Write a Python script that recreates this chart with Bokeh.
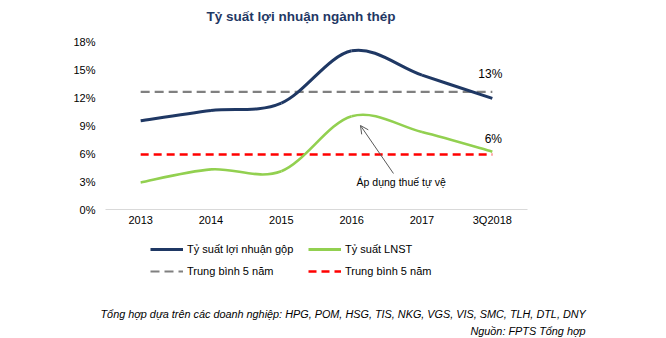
from bokeh.plotting import figure
from bokeh.layouts import column
from bokeh.models import (FixedTicker, Label, Legend, LegendItem, Arrow, OpenHead, ColumnDataSource)
from bokeh.embed import file_html
from bokeh.resources import INLINE

categories = ["2013", "2014", "2015", "2016", "2017", "3Q2018"]
gross_margin = [9.5, 10.6, 11.4, 17.0, 14.4, 11.9]
net_margin = [2.9, 4.3, 4.1, 10.0, 8.3, 6.2]
gross_avg = 12.6
net_avg = 5.9
y_ticks = [0, 3, 6, 9, 12, 15, 18]

FONT = "Liberation Sans"
NAVY = "#1F3864"
GREEN = "#92D050"
NAN = float("nan")

xs = list(range(len(categories)))

def smooth_segments(x, y):
    n = len(x)
    P = list(zip(x, y))
    out = {k: [] for k in ["x0", "y0", "x1", "y1", "cx0", "cy0", "cx1", "cy1"]}
    for i in range(n - 1):
        pm = P[i - 1] if i > 0 else P[i]
        p0 = P[i]
        p1 = P[i + 1]
        p2 = P[i + 2] if i + 2 < n else P[i + 1]
        out["x0"].append(p0[0]); out["y0"].append(p0[1])
        out["x1"].append(p1[0]); out["y1"].append(p1[1])
        out["cx0"].append(p0[0] + (p1[0] - pm[0]) / 6)
        out["cy0"].append(p0[1] + (p1[1] - pm[1]) / 6)
        out["cx1"].append(p1[0] - (p2[0] - p0[0]) / 6)
        out["cy1"].append(p1[1] - (p2[1] - p0[1]) / 6)
    return ColumnDataSource(out)

# ---------------- main chart ----------------
p = figure(width=666, height=237, output_backend="svg", toolbar_location=None,
           x_range=(-0.5, 5.5), y_range=(0, 18 * 209 / 168),
           min_border_left=105, min_border_right=139, min_border_top=0, min_border_bottom=28)
p.frame_align = False
p.outline_line_color = None
p.xgrid.visible = False
p.ygrid.visible = False

p.xaxis.ticker = FixedTicker(ticks=xs)
p.xaxis.major_label_overrides = {i: c for i, c in enumerate(categories)}
p.xaxis.axis_line_color = "#D9D9D9"
p.xaxis.axis_line_width = 1
p.xaxis.major_tick_line_color = None
p.xaxis.minor_tick_line_color = None
p.xaxis.major_tick_in = 0
p.xaxis.major_tick_out = 0
p.xaxis.major_label_standoff = 4
p.xaxis.major_label_text_font = FONT
p.xaxis.major_label_text_font_size = "11px"
p.xaxis.major_label_text_color = "#000000"

p.yaxis.ticker = FixedTicker(ticks=y_ticks)
p.yaxis.major_label_overrides = {v: f"{v}%" for v in y_ticks}
p.yaxis.axis_line_color = None
p.yaxis.major_tick_line_color = None
p.yaxis.minor_tick_line_color = None
p.yaxis.major_tick_in = 0
p.yaxis.major_tick_out = 0
p.yaxis.major_label_standoff = 10
p.yaxis.major_label_text_font = FONT
p.yaxis.major_label_text_font_size = "11px"
p.yaxis.major_label_text_color = "#000000"

p.line([xs[0], xs[-1]], [gross_avg, gross_avg], line_color="#808080", line_width=2.2, line_dash="9 5")
p.line([xs[0], xs[-1]], [net_avg, net_avg], line_color="#FF0000", line_width=2.5, line_dash="8 5")

p.bezier(x0="x0", y0="y0", x1="x1", y1="y1", cx0="cx0", cy0="cy0", cx1="cx1", cy1="cy1",
         source=smooth_segments(xs, gross_margin), line_color=NAVY, line_width=3)
p.bezier(x0="x0", y0="y0", x1="x1", y1="y1", cx0="cx0", cy0="cy0", cx1="cx1", cy1="cy1",
         source=smooth_segments(xs, net_margin), line_color=GREEN, line_width=2.6)

p.add_layout(Label(x=xs[-1], y=gross_margin[-1], text="13%",
                   x_offset=-2, y_offset=24, text_align="center", text_baseline="middle",
                   text_font=FONT, text_font_size="12px", text_color="#000000"))
p.add_layout(Label(x=xs[-1], y=net_margin[-1], text="6%",
                   x_offset=1, y_offset=13, text_align="center", text_baseline="middle",
                   text_font=FONT, text_font_size="12px", text_color="#000000"))

p.add_layout(Arrow(end=OpenHead(size=8, line_color="#595959", line_width=1),
                   x_start=3.594, y_start=3.86, x_end=3.125, y_end=9.0,
                   line_color="#595959", line_width=1))
p.add_layout(Label(x=3.07, y=2.9, text="Áp dụng thuế tự vệ", text_align="left",
                   text_baseline="middle", text_font=FONT, text_font_size="10.5px",
                   text_color="#000000"))

p.add_layout(Label(x=2.28, y=20.66, text="Tỷ suất lợi nhuận ngành thép", text_align="center",
                   text_baseline="middle", text_font=FONT, text_font_size="13.5px",
                   text_font_style="bold", text_color=NAVY))

# ---------------- legend + footer ----------------
q = figure(width=666, height=101, output_backend="svg", toolbar_location=None,
           x_range=(0, 666), y_range=(101, 0), x_axis_type=None, y_axis_type=None,
           min_border=0)
q.frame_align = False
q.outline_line_color = None
q.xgrid.visible = False
q.ygrid.visible = False

r_g = q.line(x=[NAN], y=[NAN], line_color=NAVY, line_width=3)
r_n = q.line(x=[NAN], y=[NAN], line_color=GREEN, line_width=3)
r_gavg = q.line(x=[NAN], y=[NAN], line_color="#808080", line_width=2.2, line_dash="9 5")
r_navg = q.line(x=[NAN], y=[NAN], line_color="#FF0000", line_width=2.5, line_dash="8 5")

legend = Legend(items=[
    LegendItem(label="Tỷ suất lợi nhuận gộp", renderers=[r_g]),
    LegendItem(label="Trung bình 5 năm", renderers=[r_gavg]),
    LegendItem(label="Tỷ suất LNST", renderers=[r_n]),
    LegendItem(label="Trung bình 5 năm", renderers=[r_navg]),
], location=(150, 59), ncols=2, glyph_width=33, glyph_height=16, label_height=16,
    label_width=115, label_standoff=4, spacing=6, padding=0, margin=0,
    border_line_color=None, background_fill_alpha=0,
    label_text_font=FONT, label_text_font_size="11px", label_text_color="#000000")
q.add_layout(legend, "center")

q.add_layout(Label(x=100, y=76, text="Tổng hợp dựa trên các doanh nghiệp: HPG, POM, HSG, TIS, NKG, VGS, VIS, SMC, TLH, DTL, DNY",
                   text_align="left", text_baseline="middle", text_font=FONT, text_font_size="10.85px",
                   text_font_style="italic", text_color="#000000"))
q.add_layout(Label(x=585, y=93, text="Nguồn: FPTS Tổng hợp",
                   text_align="right", text_baseline="middle", text_font=FONT, text_font_size="10.85px",
                   text_font_style="italic", text_color="#000000"))

layout = column(p, q, spacing=0)
open("out.html", "w").write(file_html(layout, INLINE))
